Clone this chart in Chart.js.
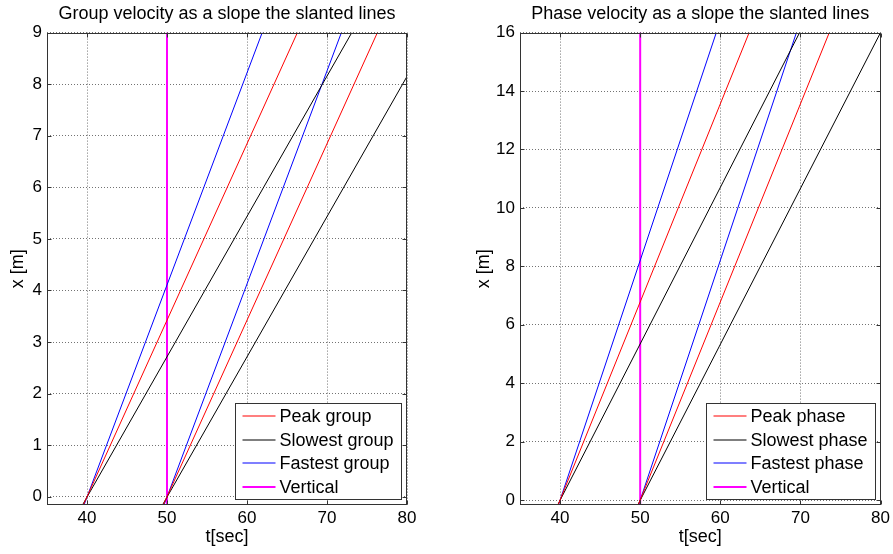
<!DOCTYPE html>
<html>
<head>
<meta charset="utf-8">
<script src="https://cdn.jsdelivr.net/npm/chart.js@4"></script>
<style>
    body { margin: 0; background: #fff; }
    .plots { position: relative; width: 893px; height: 554px; }
    canvas { position: absolute; top: 0; }
    #group-chart { left: 0; }
    #phase-chart { left: 446px; }
</style>
</head>
<body>
<div class="plots">
    <canvas id="group-chart" width="446" height="554"></canvas>
    <canvas id="phase-chart" width="447" height="554"></canvas>
</div>
<script>
// tick values
const timeTicks = [40, 50, 60, 70, 80]
const groupTicks = [0, 1, 2, 3, 4, 5, 6, 7, 8, 9]
const phaseTicks = [0, 2, 4, 6, 8, 10, 12, 14, 16]

const groupLabels = ['Peak group', 'Slowest group', 'Fastest group', 'Vertical']
const phaseLabels = ['Peak phase', 'Slowest phase', 'Fastest phase', 'Vertical']

// each line: [t, x] start and end of the two slanted segments, null splits them
const groupPeak = [[39.5, -0.17], [66.3, 9], null, [49.5, -0.17], [76.3, 9]]
const groupSlowest = [[39.4, -0.17], [73.1, 9], null, [49.4, -0.17], [80, 8.15]]
const groupFastest = [[39.6, -0.17], [61.9, 9], null, [49.6, -0.17], [71.8, 9]]
const groupVertical = [[50, -0.17], [50, 9]]

const phasePeak = [[39.75, -0.17], [63.6, 16], null, [49.75, -0.17], [73.6, 16]]
const phaseSlowest = [[39.7, -0.17], [69.9, 16], null, [49.7, -0.17], [80, 16]]
const phaseFastest = [[39.8, -0.17], [59.5, 16], null, [49.8, -0.17], [69.5, 16]]
const phaseVertical = [[50, -0.17], [50, 16]]

const lineColors = ['#ff0000', '#000000', '#0000ff', '#ff00ff']
const lineWidths = [1, 1, 1, 2]

const fontFamily = "'Liberation Sans', Arial, sans-serif"
Chart.defaults.font.family = fontFamily
Chart.defaults.color = '#000'

const toPoints = line => line.map(p => p ? { x: p[0], y: p[1] } : { x: 50, y: null })

const getDatasets = (labels, ...lines) => lines.map((line, i) => ({
    label: labels[i],
    data: toPoints(line),
    borderColor: lineColors[i],
    borderWidth: lineWidths[i],
    pointRadius: 0,
    spanGaps: false,
    tension: 0
}))

// box round the axes, inward ticks and legend in the lower right corner
const frameAndLegend = {
    id: 'frameAndLegend',
    afterDraw: chart => {
        const { ctx, chartArea, scales } = chart
        const left = Math.round(chartArea.left) + 0.5
        const right = Math.round(chartArea.right) - 0.5
        const top = Math.round(chartArea.top) + 0.5
        const bottom = Math.round(chartArea.bottom) - 0.5

        ctx.save()
        ctx.strokeStyle = '#333'
        ctx.lineWidth = 1
        ctx.strokeRect(left, top, right - left, bottom - top)

        ctx.beginPath()
        for (const tick of scales.x.ticks) {
            const px = Math.round(scales.x.getPixelForValue(tick.value)) + 0.5
            ctx.moveTo(px, bottom)
            ctx.lineTo(px, bottom - 4)
            ctx.moveTo(px, top)
            ctx.lineTo(px, top + 4)
        }
        for (const tick of scales.y.ticks) {
            const py = Math.round(scales.y.getPixelForValue(tick.value)) + 0.5
            ctx.moveTo(left, py)
            ctx.lineTo(left + 4, py)
            ctx.moveTo(right, py)
            ctx.lineTo(right - 4, py)
        }
        ctx.stroke()

        const labels = chart.data.datasets.map(d => d.label)
        ctx.font = `18px ${fontFamily}`
        const textWidth = Math.max(...labels.map(l => ctx.measureText(l).width))
        const rowHeight = 23.5
        const boxWidth = Math.round(44 + textWidth + 8)
        const boxHeight = Math.round(labels.length * rowHeight + 2)
        const boxRight = Math.round(chartArea.right) - 5.5
        const boxBottom = Math.round(chartArea.bottom) - 5.5
        const boxLeft = boxRight - boxWidth
        const boxTop = boxBottom - boxHeight

        ctx.fillStyle = '#fff'
        ctx.fillRect(boxLeft, boxTop, boxWidth, boxHeight)
        ctx.strokeStyle = '#333'
        ctx.lineWidth = 1
        ctx.strokeRect(boxLeft, boxTop, boxWidth, boxHeight)

        ctx.textBaseline = 'middle'
        ctx.textAlign = 'left'
        labels.forEach((label, i) => {
            const y = Math.round(boxTop + 1 + rowHeight * (i + 0.5))
            ctx.beginPath()
            ctx.strokeStyle = lineColors[i]
            ctx.lineWidth = lineWidths[i] === 2 ? 2 : 1.2
            ctx.moveTo(boxLeft + 7, y)
            ctx.lineTo(boxLeft + 40, y)
            ctx.stroke()
            ctx.fillStyle = '#000'
            ctx.fillText(label, boxLeft + 44, y + 1)
        })
        ctx.restore()
    }
}

const getPlot = (selector, title, yMin, yMax, yTicks, axisWidth, rightPadding, yTitlePadding, datasets) => new Chart(document.querySelector(`#${selector}-chart`), {
    type: 'line',
    data: { datasets },
    options: {
        responsive: false,
        animation: false,
        layout: {
            padding: { left: 0, right: rightPadding, top: 0, bottom: 0 }
        },
        plugins: {
            legend: { display: false },
            tooltip: { enabled: false },
            title: {
                display: true,
                fullSize: false,
                text: title,
                color: '#000',
                font: { family: fontFamily, size: 18, weight: 'normal' },
                padding: { top: 3, bottom: 8 }
            }
        },
        scales: {
            x: {
                type: 'linear',
                min: 35,
                max: 80,
                afterBuildTicks: s => { s.ticks = timeTicks.map(v => ({ value: v })) },
                afterFit: s => { s.height = 49 },
                grid: {
                    drawTicks: false,
                    color: 'rgba(0, 0, 0, 0.55)'
                },
                border: { display: false, dash: [1, 2] },
                ticks: {
                    padding: 3,
                    maxRotation: 0,
                    font: { size: 17 }
                },
                title: {
                    display: true,
                    text: 't[sec]',
                    font: { size: 18 },
                    padding: { top: 0, bottom: 6 }
                }
            },
            y: {
                type: 'linear',
                min: yMin,
                max: yMax,
                afterBuildTicks: s => { s.ticks = yTicks.map(v => ({ value: v })) },
                afterFit: s => { s.width = axisWidth },
                grid: {
                    drawTicks: false,
                    color: 'rgba(0, 0, 0, 0.55)'
                },
                border: { display: false, dash: [1, 2] },
                ticks: {
                    padding: 5,
                    font: { size: 17 }
                },
                title: {
                    display: true,
                    text: 'x [m]',
                    font: { size: 18 },
                    padding: { top: yTitlePadding, bottom: 0 }
                }
            }
        }
    },
    plugins: [frameAndLegend]
})

getPlot('group', 'Group velocity as a slope the slanted lines', -0.16, 9, groupTicks, 47, 39, 7,
    getDatasets(groupLabels, groupPeak, groupSlowest, groupFastest, groupVertical))

getPlot('phase', 'Phase velocity as a slope the slanted lines', -0.17, 16, phaseTicks, 74, 11, 27,
    getDatasets(phaseLabels, phasePeak, phaseSlowest, phaseFastest, phaseVertical))
</script>
</body>
</html>
